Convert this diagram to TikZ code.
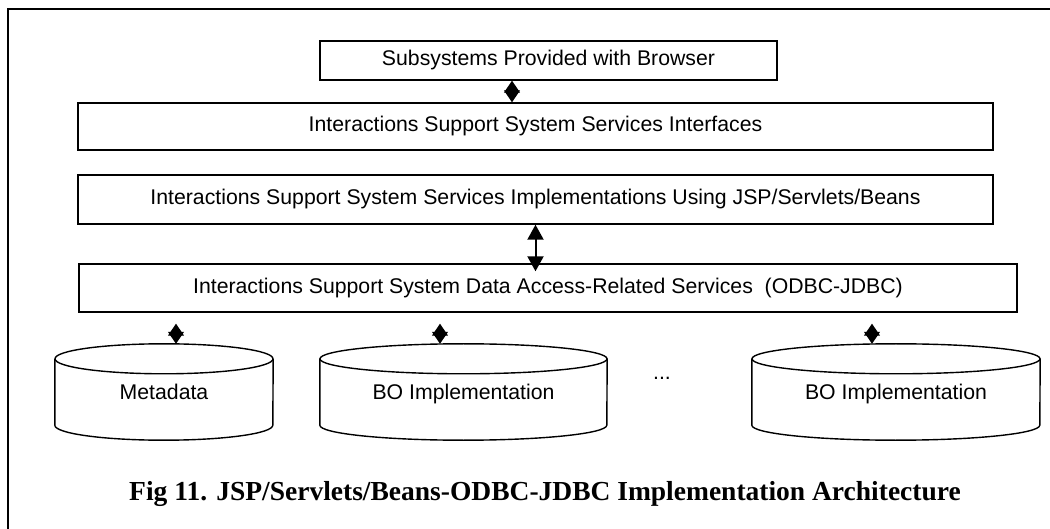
\documentclass[tikz,border=0pt]{standalone}
\usepackage{fontspec}
\setmainfont{Liberation Serif}
\setsansfont{Liberation Sans}
\usetikzlibrary{arrows.meta}

\tikzset{
  layer/.style={rectangle, draw, line width=1.4pt, inner sep=0pt, font=\sffamily\fontsize{21.25}{25}\selectfont},
  dbnode/.style={inner sep=0pt, minimum height=96, text height=15.2pt, text depth=0pt, font=\sffamily\fontsize{21.25}{25}\selectfont},
  dbline/.style={line width=1.4pt},
  smallarr/.style={line width=1pt, {Triangle[length=12pt,width=16pt]}-{Triangle[length=12pt,width=16pt]}},
  bigarr/.style={line width=2pt, {Triangle[length=15pt,width=16pt]}-{Triangle[length=15pt,width=16pt]}},
}

% cylinder round a named node: name, x radius
\newcommand{\dbcyl}[2]{%
  \draw[dbline] ([yshift=-15pt]#1.north west) -- ([yshift=15pt]#1.south west)
    arc[start angle=180, end angle=360, x radius=#2pt, y radius=15pt]
    -- ([yshift=-15pt]#1.north east);
  \draw[dbline] ([yshift=-15pt]#1.north) ellipse[x radius=#2pt, y radius=15pt];
}

\begin{document}
\begin{tikzpicture}[x=1pt, y=-1pt]
    \useasboundingbox (0,0) rectangle (1050,529);

    % Frame
    \draw[line width=2.5pt] (8,529) -- (8,9) -- (1050,9);

    % Layers
    \node[layer, minimum width=457, minimum height=39] (browser) at (548.5,60.5) {Subsystems Provided with Browser};
    \node[layer, minimum width=915, minimum height=47] (interfaces) at (535.5,126.5) {Interactions Support System Services Interfaces};
    \node[layer, minimum width=915, minimum height=49] (impl) at (535.5,199.5) {Interactions Support System Services Implementations Using JSP/Servlets/Beans};
    \node[layer, minimum width=938, minimum height=48] (access) at (548,288) {Interactions Support System Data Access-Related Services\ \ (ODBC-JDBC)};

    % Data stores
    \node[dbnode, minimum width=218] (meta) at (164,392) {Metadata};
    \node[dbnode, minimum width=287] (boa) at (463.5,392) {BO Implementation};
    \node[dbnode, minimum width=288] (bob) at (896,392) {BO Implementation};
    \dbcyl{meta}{109}
    \dbcyl{boa}{143.5}
    \dbcyl{bob}{144}
    \node[anchor=base, font=\sffamily\fontsize{21.25}{25}\selectfont] (dots) at (662,380) {...};

    % Connections
    \draw[smallarr] ([xshift=-36.5pt]browser.south) -- ([xshift=-36.5pt]browser.south |- interfaces.north);
    \draw[bigarr] (impl.south) -- ([yshift=-8pt]impl.south |- access.north);
    \draw[smallarr] ([xshift=12pt]meta.north) -- ([xshift=12pt,yshift=-11pt]meta.north |- access.south);
    \draw[smallarr] ([xshift=-23.5pt]boa.north) -- ([xshift=-23.5pt,yshift=-11pt]boa.north |- access.south);
    \draw[smallarr] ([xshift=-24pt]bob.north) -- ([xshift=-24pt,yshift=-11pt]bob.north |- access.south);

    % Caption
    \node[anchor=base, font=\bfseries\fontsize{27.5}{32}\selectfont] (caption) at (545,500) {Fig 11. JSP/Servlets/Beans-ODBC-JDBC Implementation Architecture};
\end{tikzpicture}
\end{document}
